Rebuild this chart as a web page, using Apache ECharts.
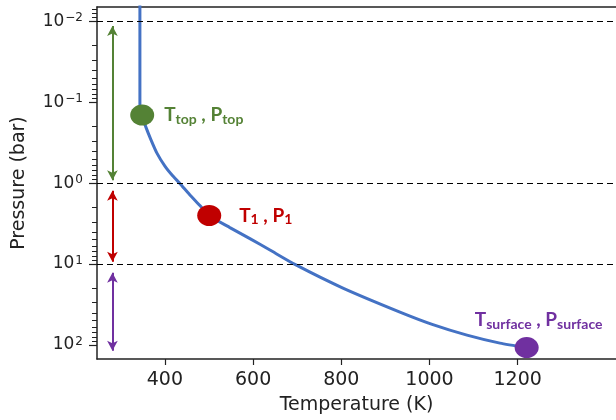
<!DOCTYPE html>
<html><head><meta charset="utf-8">
<script src="https://cdn.jsdelivr.net/npm/echarts@6/dist/echarts.min.js"></script>
<style>html,body{margin:0;padding:0;background:#fff}#c{width:616px;height:420px}</style>
</head><body><div id="c"></div>
<script>
// ---- data ----
const profileT = [343.3, 343.3, 347.8, 356.9, 368.2, 381.9, 400, 418.1, 434, 456.7, 479.4, 499.8, 547.4, 592.8, 638.2, 694.9, 803.7, 933, 1007.8, 1085, 1159.8, 1221];
const profileP = [0.005, 0.108, 0.144, 0.203, 0.289, 0.425, 0.615, 0.817, 1.01, 1.40, 1.89, 2.51, 3.54, 4.84, 6.71, 10.1, 19.8, 39.2, 56.0, 75.5, 94.8, 107.7];
const pointSubs = ['top', '1', 'surface'];
const pointT = [348.5, 500.5, 1220.4];
const pointP = [0.144, 2.51, 107.7];
const levelP = [0.01, 1, 10];
const arrowT = 281;
const arrowStartP = [0.0114, 1.24, 12.8];
const arrowEndP = [0.92, 9.35, 118];
const xTicks = [400, 600, 800, 1000, 1200];
const yTicks = [0.01, 0.1, 1, 10, 100];

// ---- styles ----
const pointColors = ['#548235', '#C00000', '#7030A0'];
const labelStyles = [
  {position: 'right', distance: 10},
  {position: 'right', distance: 18},
  {position: 'top', distance: 6, offset: [12, 0]}
];
const xMin = 246, xMax = 1423;
const yMin = 0.00665, yMax = 149;
const minorTicks = [];
for (let d = -3; d <= 2; d++) for (let k = 2; k <= 9; k++) {
  const v = k * Math.pow(10, d);
  if (v > yMin && v < yMax) minorTicks.push(v);
}
const AX = '#222';
const fontMain = 'DejaVu Sans';

const fmtY = v => {
  const e = Math.round(Math.log10(v));
  return '{b|10}{s|' + (e < 0 ? '\u2212' + (-e) : e) + '}';
};

const chart = echarts.init(document.getElementById('c'), null, {renderer: 'canvas'});
const option = {
  animation: false,
  grid: {left: 97, top: 7, right: 0, bottom: 61},
  xAxis: [{
    type: 'value', min: xMin, max: xMax,
    axisLine: {lineStyle: {color: AX, width: 1.5}},
    axisTick: {show: true, length: 6, customValues: xTicks, lineStyle: {color: AX, width: 1.2}},
    axisLabel: {customValues: xTicks, margin: 12, fontSize: 19, color: AX, fontFamily: fontMain, formatter: v => String(v)},
    splitLine: {show: false},
    name: 'Temperature (K)', nameLocation: 'middle', nameGap: 37,
    nameTextStyle: {fontSize: 19, color: AX, fontFamily: fontMain}
  }, {
    type: 'value', min: xMin, max: xMax, position: 'top',
    axisLine: {show: true, lineStyle: {color: AX, width: 1.5}},
    axisTick: {show: false}, axisLabel: {show: false}, splitLine: {show: false}
  }],
  yAxis: [{
    type: 'log', inverse: true, min: yMin, max: yMax,
    axisLine: {show: true, lineStyle: {color: AX, width: 1.5}},
    axisTick: {show: true, length: 8, customValues: yTicks, lineStyle: {color: AX, width: 1.2}},
    axisLabel: {customValues: yTicks, margin: 14, formatter: fmtY, color: AX,
      rich: {b: {fontSize: 17, fontFamily: fontMain, color: AX},
             s: {fontSize: 12, fontFamily: fontMain, color: AX, verticalAlign: 'top', padding: [0, 0, 6, 1]}}},
    splitLine: {show: false},
    name: 'Pressure (bar)', nameLocation: 'middle', nameGap: 68,
    nameTextStyle: {fontSize: 19, color: AX, fontFamily: fontMain}
  }, {
    type: 'log', inverse: true, min: yMin, max: yMax, position: 'left',
    axisLine: {show: false},
    axisTick: {show: true, length: 5, customValues: minorTicks, lineStyle: {color: AX, width: 1}},
    axisLabel: {show: false},
    splitLine: {show: false}
  }],
  series: [{
    type: 'line',
    data: profileT.map((t, i) => [t, profileP[i]]),
    smooth: 0.2, showSymbol: false, symbol: 'none',
    lineStyle: {color: '#4472C4', width: 3},
    z: 3,
    markLine: {
      silent: true, symbol: ['none', 'none'], label: {show: false},
      lineStyle: {color: '#000', type: [6, 4], width: 1.2},
      data: levelP.map(p => ({yAxis: p}))
    }
  }, {
    type: 'line', data: [], z: 2,
    markLine: {
      silent: true, symbol: ['arrow', 'arrow'], symbolSize: [8, 10], label: {show: false},
      data: arrowStartP.map((p, i) => [
        {coord: [arrowT, p], lineStyle: {color: pointColors[i], width: 2, type: 'solid'}, itemStyle: {color: pointColors[i]}},
        {coord: [arrowT, arrowEndP[i]]}
      ])
    }
  }, {
    type: 'scatter', z: 5,
    symbol: 'circle', symbolSize: [24, 21],
    data: pointT.map((t, i) => ({
      value: [t, pointP[i]],
      itemStyle: {color: pointColors[i], opacity: 1},
      label: Object.assign({
        show: true,
        formatter: '{m|T}{s|' + pointSubs[i] + '}{m| , P}{s|' + pointSubs[i] + '}',
        rich: {
          m: {fontSize: 19, fontWeight: 'bold', fontFamily: 'Lato', color: pointColors[i], lineHeight: 22},
          s: {fontSize: 14, fontWeight: 'bold', fontFamily: 'Lato', color: pointColors[i], lineHeight: 14, verticalAlign: 'bottom', padding: [10, 0, 0, 0]}
        }
      }, labelStyles[i])
    }))
  }]
};
chart.setOption(option);
</script>
</body></html>
